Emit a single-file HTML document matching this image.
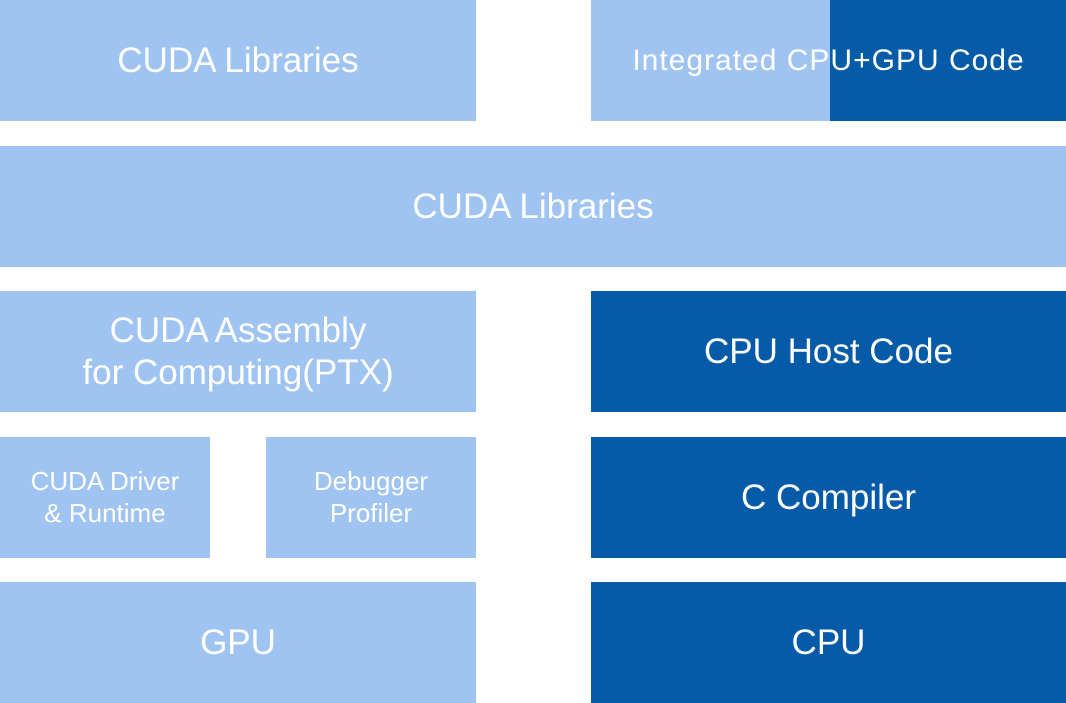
<!DOCTYPE html>
<html><head><meta charset="utf-8"><style>
html,body{margin:0;padding:0;background:#fff;}
body{width:1066px;height:703px;position:relative;overflow:hidden;font-family:"Liberation Sans",sans-serif;color:#fff;}
.b{position:absolute;display:flex;align-items:center;justify-content:center;text-align:center;line-height:1.2;}
.l{background:#A0C4F1;}
.d{background:#055BA8;}
</style></head><body>
<div class="b l" style="left:0;top:0;width:476px;height:121px;font-size:35px;">CUDA Libraries</div>
<div class="b l" style="left:591px;top:0;width:239px;height:121px;"></div>
<div class="b d" style="left:830px;top:0;width:236px;height:121px;"></div>
<div class="b" style="left:591px;top:0;width:475px;height:121px;font-size:30px;letter-spacing:1px;">Integrated CPU+GPU Code</div>
<div class="b l" style="left:0;top:146px;width:1066px;height:121px;font-size:35px;">CUDA Libraries</div>
<div class="b l" style="left:0;top:291px;width:476px;height:121px;font-size:35px;line-height:1.2;">CUDA Assembly<br>for Computing(PTX)</div>
<div class="b d" style="left:591px;top:291px;width:475px;height:121px;font-size:35px;">CPU Host Code</div>
<div class="b l" style="left:0;top:437px;width:210px;height:121px;font-size:26px;">CUDA Driver<br>&amp; Runtime</div>
<div class="b l" style="left:266px;top:437px;width:210px;height:121px;font-size:26px;">Debugger<br>Profiler</div>
<div class="b d" style="left:591px;top:437px;width:475px;height:121px;font-size:35px;">C Compiler</div>
<div class="b l" style="left:0;top:582px;width:476px;height:121px;font-size:35px;">GPU</div>
<div class="b d" style="left:591px;top:582px;width:475px;height:121px;font-size:35px;">CPU</div>
</body></html>
